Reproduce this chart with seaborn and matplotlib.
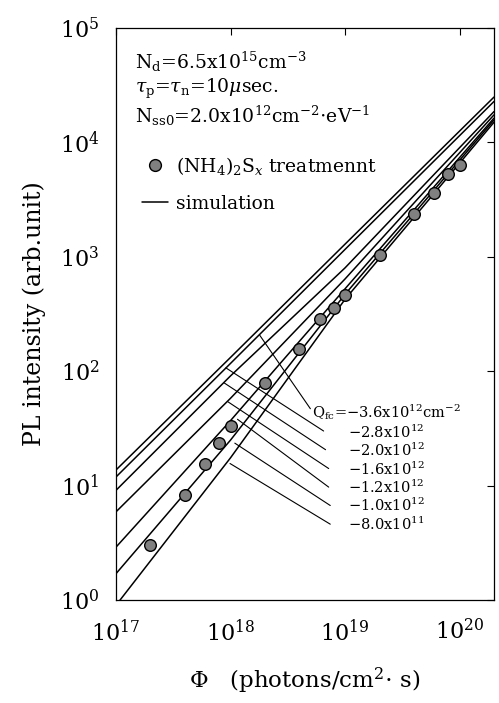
import numpy as np
import pandas as pd
import matplotlib
matplotlib.use('Agg')
import matplotlib.pyplot as plt
import seaborn as sns
from matplotlib.lines import Line2D

# ---- measured PL intensity, (NH4)2Sx treated sample ----
flux = [2e17, 4e17, 6e17, 8e17, 1e18, 2e18, 4e18, 6e18, 8e18, 1e19,
        2e19, 4e19, 6e19, 8e19, 1e20]
pl = [3.0, 8.3, 15.5, 23.5, 33, 79, 157, 284, 359, 461,
      1040, 2390, 3620, 5310, 6330]

# ---- simulated curves (value read at a few flux points) ----
sim_flux = [1e17, 1e18, 1e19, 2e20]
qfc_labels = ['-3.6', '-2.8', '-2.0', '-1.6', '-1.2', '-1.0', '-0.8']
sim_36 = [13.7, 132, 1290, 24900]
sim_28 = [11.9, 117, 1160, 22800]
sim_20 = [9.1, 91, 800, 18600]
sim_16 = [5.9, 58, 640, 17400]
sim_12 = [2.9, 37, 525, 16300]
sim_10 = [1.7, 25, 470, 15700]
sim_08 = [0.9, 17.5, 425, 15000]
sims = [sim_36, sim_28, sim_20, sim_16, sim_12, sim_10, sim_08]

# ---- Qfc labels with leader lines (curve end, label end) ----
lead_x0 = [1.8e18, 9.1e17, 8.8e17, 9.5e17, 1.15e18, 1.09e18, 9.9e17]
lead_y0 = [206, 107, 79, 54, 38, 23.5, 15.6]
lead_x1 = [4.98e18, 6.5e18, 6.76e18, 7.2e18, 7.2e18, 7.43e18, 7.43e18]
lead_y1 = [47, 30, 20.6, 14.1, 9.7, 6.7, 4.6]
label_y = [44, 29, 20.2, 14.0, 9.7, 6.7, 4.6]
qfc_text = [r'Q$_{\rm fc}$=$-$3.6x10$^{12}$cm$^{-2}$',
            r'$-$2.8x10$^{12}$', r'$-$2.0x10$^{12}$', r'$-$1.6x10$^{12}$',
            r'$-$1.2x10$^{12}$', r'$-$1.0x10$^{12}$', r'$-$8.0x10$^{11}$']

sim_df = pd.DataFrame({
    'flux': sim_flux * len(sims),
    'pl': np.concatenate(sims),
    'qfc': np.repeat(qfc_labels, len(sim_flux)),
})
data_df = pd.DataFrame({'flux': flux, 'pl': pl})

sns.set_style('white')
plt.rcParams['font.family'] = ['DejaVu Serif']
plt.rcParams['mathtext.fontset'] = 'dejavuserif'
plt.rcParams['text.color'] = 'black'
plt.rcParams['axes.labelcolor'] = 'black'
plt.rcParams['xtick.color'] = 'black'
plt.rcParams['ytick.color'] = 'black'

fig = plt.figure(figsize=(4.99, 7.03), dpi=100)
ax = fig.add_axes([0.2325, 0.1465, 0.7575, 0.8137])

sns.lineplot(data=sim_df, x='flux', y='pl', hue='qfc',
             palette=['black'] * len(sims), estimator=None, sort=False,
             linewidth=1.1, legend=False, ax=ax)
sns.scatterplot(data=data_df, x='flux', y='pl', s=70, color='#808080',
                edgecolor='black', linewidth=1.0, zorder=5, ax=ax)

for i in range(len(qfc_text)):
    ax.plot([lead_x0[i], lead_x1[i]], [lead_y0[i], lead_y1[i]],
            color='black', lw=0.8)
    tx = lead_x1[i] * 1.03 if i == 0 else 1.07e19
    ax.text(tx, label_y[i], qfc_text[i], fontsize=10.5, va='center', ha='left')

ax.set_xscale('log')
ax.set_yscale('log')
ax.set_xlim(1e17, 2e20)
ax.set_ylim(1, 1e5)
ax.set_xticks([1e17, 1e18, 1e19, 1e20])
ax.set_yticks([1e0, 1e1, 1e2, 1e3, 1e4, 1e5])
ax.minorticks_off()
ax.tick_params(which='major', direction='in', length=5, width=0.8,
               top=True, right=True, labelsize=16)
ax.tick_params(axis='x', pad=14)
ax.tick_params(axis='y', pad=12)
for s in ax.spines.values():
    s.set_linewidth(0.9)
    s.set_color('black')

ax.set_xlabel(r'$\Phi$   (photons/cm$^2$$\cdot$ s)', fontsize=16.5, labelpad=14)
ax.set_ylabel('PL intensity (arb.unit)', fontsize=17, labelpad=10)

ax.text(0.05, 0.94, r'N$_{\rm d}$=6.5x10$^{15}$cm$^{-3}$',
        transform=ax.transAxes, fontsize=13.5, va='center')
ax.text(0.05, 0.893, r'$\tau_{\rm p}$=$\tau_{\rm n}$=10$\mu$sec.',
        transform=ax.transAxes, fontsize=13.5, va='center')
ax.text(0.05, 0.847, r'N$_{\rm ss0}$=2.0x10$^{12}$cm$^{-2}$$\cdot$eV$^{-1}$',
        transform=ax.transAxes, fontsize=13.5, va='center')

handles = [Line2D([], [], marker='o', ls='none', markersize=8.5,
                  markerfacecolor='#808080', markeredgecolor='black'),
           Line2D([], [], color='black', lw=1.1)]
ax.legend(handles, [r'(NH$_4$)$_2$S$_x$ treatmennt', 'simulation'],
          loc='upper left', bbox_to_anchor=(0.069, 0.778), frameon=False,
          borderaxespad=0, borderpad=0, fontsize=13.5, handlelength=1.4,
          handletextpad=0.4, labelspacing=0.95)

plt.savefig('out.png', dpi=100)
